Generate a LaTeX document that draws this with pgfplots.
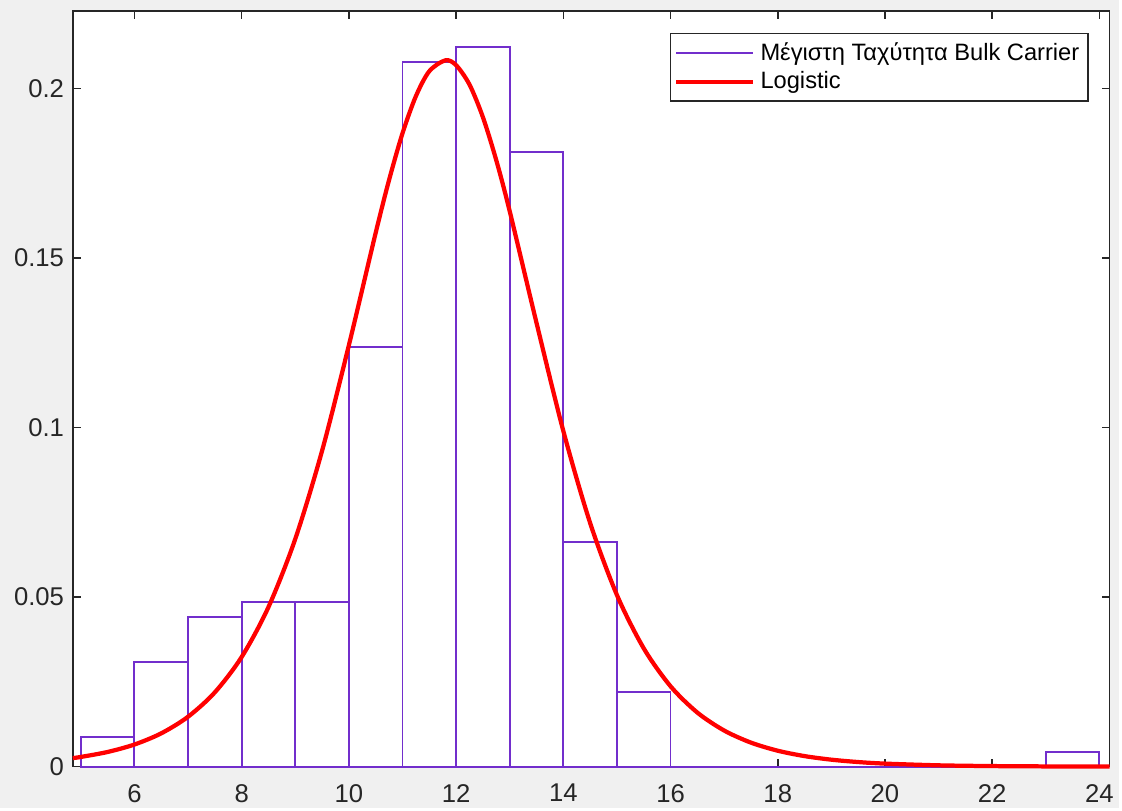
\documentclass[border=0pt]{standalone}
\usepackage{pgfplots}
\pgfplotsset{compat=1.18}
\usepackage{fontspec}
\setmainfont{Liberation Sans}
\usetikzlibrary{calc,backgrounds}
\definecolor{histc}{RGB}{114,46,204}
\definecolor{axc}{RGB}{38,38,38}
\definecolor{bgc}{RGB}{240,240,240}
\begin{document}
\begin{tikzpicture}
\begin{axis}[
  name=ax,
  scale only axis,
  width=416pt, height=303.2pt,
  xmin=4.85, xmax=24.19,
  ymin=0, ymax=0.2229,
  xtick={6,8,...,24},
  ytick={0,0.05,0.1,0.15,0.2},
  yticklabels={0,0.05,0.1,0.15,0.2},
  /pgf/number format/assume math mode=true,
  tick align=inside,
  xtick pos=both, ytick pos=both,
  major tick length=3.2pt,
  axis line style={axc, line width=0.6pt},
  tick style={axc, line width=0.6pt},
  ticklabel style={font=\fontsize{10.3}{12}\selectfont, text=axc},
  xticklabel style={yshift=-3.5pt},
  axis background/.style={fill=white},
  clip=false,
  legend style={at={(rel axis cs:0.9798,0.971)}, anchor=north east, draw=axc, line width=0.5pt,
    font=\fontsize{9.5}{11}\selectfont, inner sep=1.5pt, row sep=-1pt, cells={anchor=west}},
  legend cell align=left,
]
\addplot[ybar interval, draw=histc, fill=none, line width=0.75pt,
  legend image code/.code={\draw[histc, line width=0.75pt] (0pt,0pt) -- (31pt,0pt);}]
coordinates {
(5,0.008850) (6,0.030973) (7,0.044248) (8,0.048673) (9,0.048673) (10,0.123894)
(11,0.207965) (12,0.212389) (13,0.181416) (14,0.066372) (15,0.022124)
(16,0) (17,0) (18,0) (19,0) (20,0) (21,0) (22,0) (23,0.004425) (24,0.004425)
};
\addlegendentry{Μέγιστη Ταχύτητα Bulk Carrier}
\addplot[red, line width=1.7pt, smooth,
  legend image code/.code={\draw[red, line width=1.7pt] (0pt,0pt) -- (31pt,0pt);}]
coordinates {
(4.85,0.002529) (5,0.002863) (5.5,0.004327) (6,0.006528) (6.5,0.009825) (7,0.014719)
(7.5,0.021917) (8,0.032339) (8.5,0.047064) (9,0.067156) (9.5,0.093163) (10,0.12429)
(10.5,0.15744) (10.75,0.17305) (11,0.1868) (11.25,0.19776) (11.5,0.20512) (11.8,0.208333)
(12,0.20690) (12.25,0.20118) (12.5,0.19157) (12.75,0.17883) (13,0.16384) (13.5,0.13090)
(14,0.09903) (14.5,0.071882) (15,0.050622) (15.5,0.034900) (16,0.023711) (16.5,0.01595)
(17,0.010655) (17.5,0.0070867) (18,0.0046993) (18.5,0.0031097) (19,0.0020554)
(19.5,0.0013573) (20,0.00089577) (21,0.00038979) (22,0.00016949) (23,0.00007368) (24.19,0.0000323)
};
\addlegendentry{Logistic}
\end{axis}
\begin{scope}[on background layer]
\fill[bgc] ($(ax.south west)+(-29.2pt,-16.4pt)$) rectangle ($(ax.north east)+(3.6pt,4.4pt)$);
\end{scope}
\end{tikzpicture}
\end{document}
